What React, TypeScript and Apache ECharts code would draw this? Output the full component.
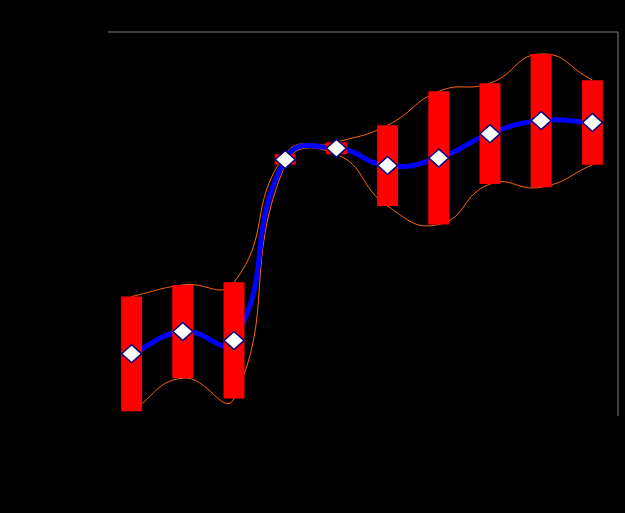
import React, { useEffect, useRef } from "react";
import * as echarts from "echarts";

const categories = ["1", "2", "3", "4", "5", "6", "7", "8", "9", "10"];
const meanValues = [16.4, 22.2, 19.9, 66.9, 69.8, 65.3, 67.3, 73.6, 77.0, 76.5];
const sdValues = [14.9, 12.1, 15.1, 1.35, 1.56, 10.5, 17.3, 13.1, 17.3, 11.0];

const upperValues = meanValues.map((m, i) => +(m + sdValues[i]).toFixed(2));
const lowerValues = meanValues.map((m, i) => +(m - sdValues[i]).toFixed(2));
const spanValues = sdValues.map((s) => +(2 * s).toFixed(2));

const SMOOTH = 0.5;

function smoothPathData(pts: number[][]): string {
  const n = pts.length;
  const inCp: number[][] = [];
  const outCp: number[][] = [];
  for (let i = 0; i < n; i++) {
    const p = pts[i];
    const prev = pts[i - 1] || p;
    const next = pts[i + 1] || p;
    const vx = next[0] - prev[0];
    const vy = next[1] - prev[1];
    const l0 = Math.hypot(p[0] - prev[0], p[1] - prev[1]);
    const l1 = Math.hypot(next[0] - p[0], next[1] - p[1]);
    const sum = l0 + l1 || 1;
    inCp[i] = [p[0] - (vx * SMOOTH * l0) / sum, p[1] - (vy * SMOOTH * l0) / sum];
    outCp[i] = [p[0] + (vx * SMOOTH * l1) / sum, p[1] + (vy * SMOOTH * l1) / sum];
  }
  let d = `M${pts[0][0]} ${pts[0][1]}`;
  for (let i = 0; i < n - 1; i++) {
    const a = outCp[i];
    const b = inCp[i + 1];
    const c = pts[i + 1];
    d += ` C${a[0]} ${a[1]} ${b[0]} ${b[1]} ${c[0]} ${c[1]}`;
  }
  return d;
}

function smoothSeries(values: number[], color: string, width: number, z: number) {
  return {
    type: "custom",
    z,
    data: values.map((v, i) => [i, v]),
    encode: { x: 0, y: 1 },
    renderItem: (params: any, api: any) => {
      if (params.dataIndex !== 0) return null;
      const pts = values.map((v, i) => api.coord([i, v]));
      return {
        type: "path",
        shape: { pathData: smoothPathData(pts) },
        style: { stroke: color, lineWidth: width, fill: "none", lineJoin: "round", lineCap: "round" },
      };
    },
  };
}

export default function App() {
  const ref = useRef<HTMLDivElement>(null);
  useEffect(() => {
    if (!ref.current) return;
    const chart = echarts.init(ref.current, undefined, { renderer: "svg" });
    chart.setOption({
      animation: false,
      backgroundColor: "#000000",
      grid: {
        left: 106,
        top: 32,
        width: 512,
        height: 385,
        show: true,
        borderColor: "#808080",
        borderWidth: 1,
        backgroundColor: "transparent",
      },
      xAxis: {
        type: "category",
        data: categories,
        boundaryGap: true,
        axisLine: { show: true, lineStyle: { color: "#000000", width: 3 } },
        axisTick: { show: false },
        axisLabel: { show: false },
        splitLine: { show: false },
      },
      yAxis: {
        type: "value",
        min: 0,
        max: 100,
        axisLine: { show: true, lineStyle: { color: "#000000", width: 3 } },
        axisTick: { show: false },
        axisLabel: { show: false },
        splitLine: { show: false },
      },
      series: [
        smoothSeries(upperValues, "#FF6600", 1, 1),
        smoothSeries(lowerValues, "#FF6600", 1, 1),
        smoothSeries(meanValues, "#0000FF", 5, 2),
        {
          type: "bar",
          stack: "band",
          data: lowerValues,
          barWidth: 21,
          z: 3,
          itemStyle: { color: "transparent" },
        },
        {
          type: "bar",
          stack: "band",
          data: spanValues,
          barWidth: 21,
          z: 3,
          itemStyle: { color: "#FF0000" },
        },
        {
          type: "line",
          data: meanValues,
          symbol: "diamond",
          symbolSize: [20, 18],
          z: 4,
          lineStyle: { opacity: 0 },
          itemStyle: { color: "#FFFFFF", borderColor: "#000080", borderWidth: 1.5 },
        },
      ],
    });
    return () => chart.dispose();
  }, []);
  return (
    <div
      ref={ref}
      style={{ position: "absolute", left: 0, top: 0, width: 625, height: 513 }}
    />
  );
}
